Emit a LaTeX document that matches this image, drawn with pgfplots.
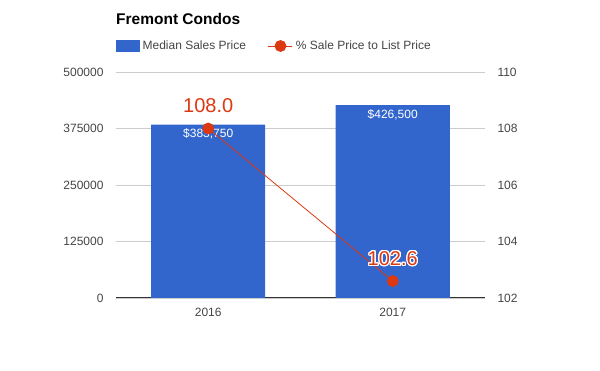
\documentclass[border=0pt]{standalone}
\usepackage{pgfplots}
\pgfplotsset{compat=1.18}
\usepackage{fontspec}
\setmainfont{Liberation Sans}
\usepackage{contour}
\contourlength{1.2pt}
\definecolor{gblue}{HTML}{3366CC}
\definecolor{gred}{HTML}{DC3912}
\definecolor{ggrid}{HTML}{CCCCCC}
\definecolor{gtext}{HTML}{444444}
\definecolor{gaxis}{HTML}{333333}
\begin{document}
\begin{tikzpicture}
\path[use as bounding box] (-116pt,-73pt) rectangle (484pt,298pt);
\pgfplotsset{
  common/.style={
    scale only axis, width=369pt, height=226pt,
    at={(0pt,0pt)}, anchor=south west,
    xmin=-0.5, xmax=1.5,
    major tick length=0pt,
    tick label style={font=\fontsize{12}{14}\selectfont, text=gtext},
    /pgf/number format/assume math mode=true,
  }
}
\begin{axis}[common,
  ymin=0, ymax=500000,
  ytick={0,125000,250000,375000,500000},
  scaled y ticks=false,
  yticklabel style={/pgf/number format/fixed, /pgf/number format/1000 sep={}, xshift=-9pt},
  xtick={0,1}, xticklabels={2016,2017},
  xticklabel style={yshift=-7pt},
  ymajorgrids, grid style={ggrid, line width=0.8pt},
  axis x line*=bottom, axis y line*=left,
  x axis line style={-, draw=gaxis, line width=1pt},
  y axis line style={draw=none},
  title={Fremont Condos},
  title style={at={(0,1)}, anchor=west, yshift=47pt, inner sep=0pt,
    font=\bfseries\fontsize{15.5}{18}\selectfont},
  nodes near coords={\$\pgfmathprintnumber[fixed, 1000 sep={,}]{\pgfplotspointmeta}},
  every node near coord/.append style={anchor=north, inner sep=0pt, yshift=-4pt,
    text=white, font=\fontsize{12}{14}\selectfont},
]
\addplot[ybar, bar width=114pt, fill=gblue, draw=none] coordinates {(0,383750) (1,426500)};
\end{axis}
\begin{axis}[common,
  ymin=102, ymax=110,
  ytick={102,104,106,108,110},
  yticklabel style={xshift=9pt},
  axis y line*=right, axis x line=none,
  y axis line style={draw=none},
  xtick=\empty,
  legend columns=2,
  legend style={at={(0,1)}, anchor=west, yshift=26pt, draw=none, fill=none,
    inner sep=0pt, font=\fontsize{12}{14}\selectfont, text=gtext,
    /tikz/every even column/.append style={column sep=19pt},
    nodes={inner sep=0pt, inner xsep=3pt}},
  legend cell align=left,
]
\addlegendimage{legend image code/.code={\fill[gblue] (0pt,-5.5pt) rectangle (23pt,5.5pt);}}
\addlegendentry{Median Sales Price}
\addplot[gred, line width=0.8pt, mark=*, mark size=5.5pt,
  legend image code/.code={\draw[gred, line width=1pt] (0pt,0pt) -- (24pt,0pt); \fill[gred] (12pt,0pt) circle (5.5pt);},
  nodes near coords={\contour{white}{\pgfmathprintnumber[fixed, fixed zerofill, precision=1]{\pgfplotspointmeta}}},
  every node near coord/.append style={anchor=south, inner sep=0pt, yshift=14pt,
    text=gred, font=\fontsize{20}{22}\selectfont},
] coordinates {(0,108.0) (1,102.6)};
\addlegendentry{\% Sale Price to List Price}
\end{axis}
\end{tikzpicture}
\end{document}
